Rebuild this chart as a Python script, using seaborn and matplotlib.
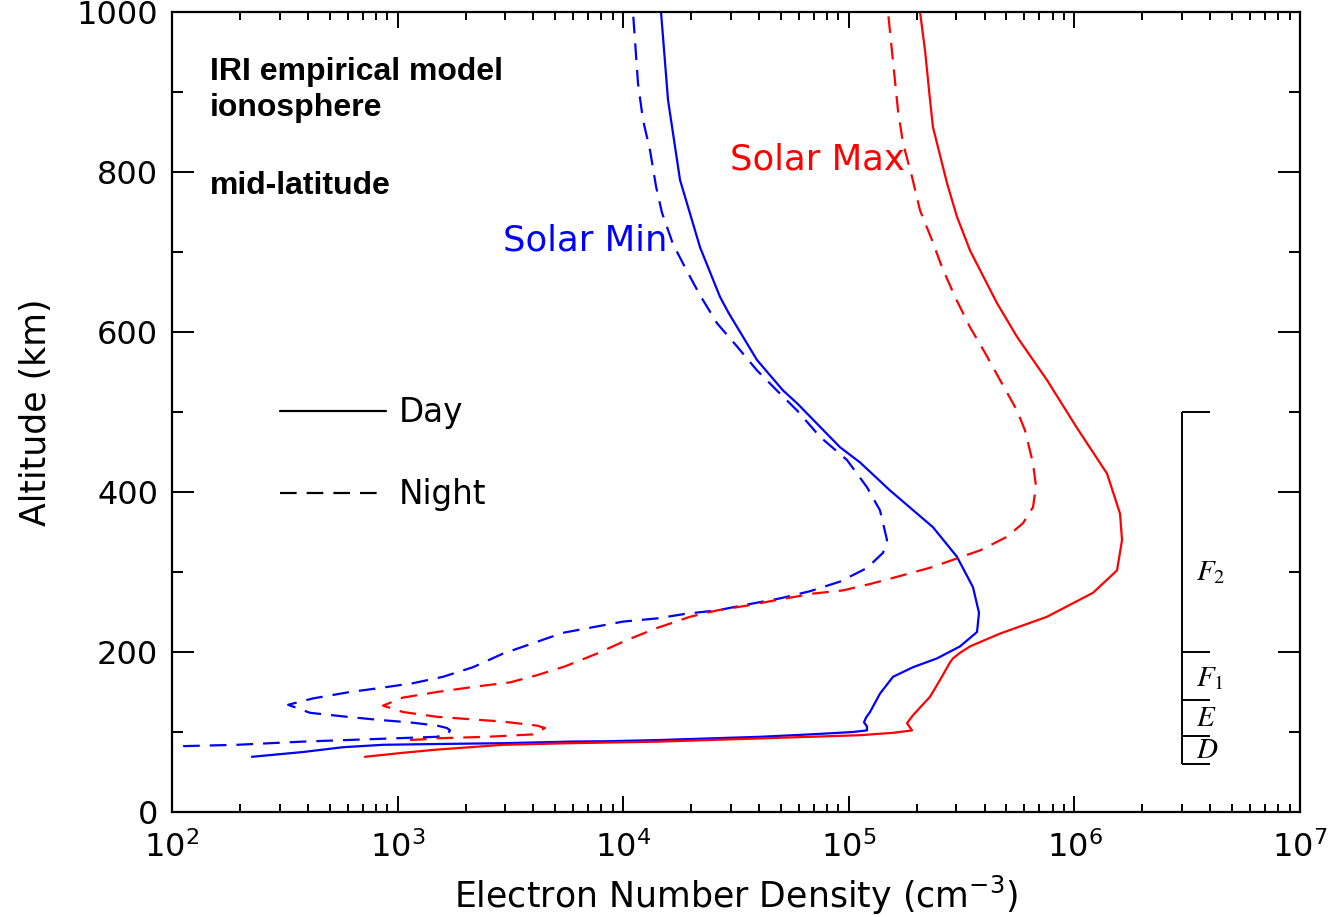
import numpy as np
import pandas as pd
import matplotlib
matplotlib.use("Agg")
import matplotlib.pyplot as plt
import seaborn as sns
from matplotlib.lines import Line2D
from matplotlib.ticker import LogLocator, MultipleLocator, NullFormatter, FixedLocator

# ---------------- data (altitude km, electron density cm^-3) ----------------
min_day_alt = [69, 75, 81, 84, 85, 86, 88, 88.5, 90, 92, 94, 97, 100, 102, 107, 112, 118, 125,
               148, 169, 181, 192, 207, 225, 249, 281, 319, 356, 402, 437, 456, 511, 527, 565,
               624, 644, 706, 765, 790, 890, 1000]
min_day_ne = [226, 381, 573, 862, 1495, 2933, 5810, 8740, 14560, 24260, 40410, 67300, 104400,
              120400, 120400, 116800, 119200, 124200, 137500, 157000, 192600, 246000, 311200,
              370100, 377700, 355200, 301700, 236100, 152200, 112100, 91400, 58940, 51080, 39180,
              29300, 26850, 21900, 18980, 17860, 15800, 14710]

min_night_alt = [81, 82, 84, 88, 91, 94, 98, 102, 105, 108, 112, 115, 119, 124, 134, 142, 150,
                 155, 161, 169, 181, 198, 211, 224, 231, 238, 242, 248, 252, 260, 267, 276, 288,
                 305, 324, 340, 377, 406, 440, 469, 502, 523, 552, 582, 611, 646, 676, 710, 749,
                 782, 827, 865, 911, 1000]
min_night_ne = [65, 100, 194, 381, 755, 1495, 1673, 1708, 1656, 1495, 1135, 836, 597, 409, 327,
                422, 615, 836, 1170, 1589, 2159, 2933, 3983, 5410, 7346, 9980, 14120, 19180,
                26050, 36480, 49550, 67300, 91400, 120400, 141800, 147700, 137500, 120400, 98170,
                74530, 58940, 49550, 39180, 31940, 26050, 21900, 19180, 16620, 14860, 13980,
                13150, 12240, 11630, 11050]

max_day_alt = [69, 74, 78, 81, 84, 86, 88, 92, 96, 99, 102, 111, 121, 144, 165, 187, 192, 199,
               207, 223, 244, 274, 302, 340, 373, 423, 480, 540, 594, 636, 702, 744, 786, 856,
               890, 952, 1000]
max_day_ne = [717, 1056, 1495, 2094, 2933, 5810, 14560, 40410, 112100, 157000, 190600, 181100,
              192600, 229100, 253700, 280900, 289600, 311200, 344500, 468000, 755600, 1209000,
              1545000, 1626000, 1593000, 1395000, 1027000, 755600, 556700, 453900, 344500,
              301700, 272500, 236100, 229100, 217700, 206900]

max_night_alt = [90, 91, 92, 94, 97, 105, 108, 113, 116, 119, 125, 133, 143, 150, 157, 162, 171,
                 182, 198, 215, 230, 244, 252, 258, 265, 273, 277, 285, 295, 306, 317, 327, 344,
                 361, 381, 407, 436, 477, 502, 540, 574, 606, 644, 681, 715, 752, 794, 836, 877,
                 1000]
max_night_ne = [1135, 1323, 1435, 2490, 3983, 4502, 4148, 2933, 2094, 1495, 1056, 862, 1056, 1495,
                2249, 3150, 4148, 5521, 7654, 10390, 14120, 19780, 26050, 35380, 48060, 69380,
                94250, 124200, 168700, 233700, 301700, 381600, 502500, 591800, 655400, 675800,
                655400, 603900, 556700, 468000, 401600, 344500, 295600, 258900, 233700, 206900,
                190600, 173900, 165200, 149200]

layer_bounds = [60, 95, 140, 200, 500]
layer_names = [r"$D$", r"$E$", r"$F_{\mathit{1}}$", r"$F_{\mathit{2}}$"]
layer_label_alt = [77, 117, 167, 300]

y_ticks = [0, 200, 400, 600, 800, 1000]

# ---------------- figure ----------------
sns.set_style("ticks")
plt.rcParams["font.family"] = ["DejaVu Sans"]
plt.rcParams["mathtext.fontset"] = "dejavusans"
for k in ["text.color", "axes.labelcolor", "xtick.color", "ytick.color", "axes.edgecolor"]:
    plt.rcParams[k] = "black"

W, H = 1331, 917
fig = plt.figure(figsize=(W / 100, H / 100), dpi=100)
ax = fig.add_axes([172 / W, 105 / H, 1128 / W, 800 / H])

frames = []
for cyc, tod, alt, ne in [("Solar Min", "Day", min_day_alt, min_day_ne),
                          ("Solar Min", "Night", min_night_alt, min_night_ne),
                          ("Solar Max", "Day", max_day_alt, max_day_ne),
                          ("Solar Max", "Night", max_night_alt, max_night_ne)]:
    frames.append(pd.DataFrame({"alt": alt, "ne": ne, "cycle": cyc, "time": tod}))
df = pd.concat(frames, ignore_index=True)

ax.set_xscale("log")
sns.lineplot(data=df, x="ne", y="alt", hue="cycle", style="time",
             palette={"Solar Min": "#0000ff", "Solar Max": "#ff0000"},
             dashes={"Day": "", "Night": (7.5, 4.5)},
             sort=False, estimator=None, lw=1.6, legend=False, ax=ax)

ax.set_xlim(1e2, 1e7)
ax.set_ylim(0, 1000)

# ticks
ax.xaxis.set_major_locator(LogLocator(base=10, numticks=10))
ax.xaxis.set_minor_locator(LogLocator(base=10, subs=np.arange(2, 10), numticks=100))
ax.xaxis.set_minor_formatter(NullFormatter())
ax.yaxis.set_major_locator(FixedLocator(y_ticks))
ax.yaxis.set_minor_locator(MultipleLocator(100))

ax.tick_params(which="both", direction="in", top=True, right=True, width=1.4, color="black",
               labelcolor="black")
ax.tick_params(axis="x", which="major", length=11.5, pad=14, labelsize=23)
ax.tick_params(axis="x", which="minor", length=6)
ax.tick_params(axis="y", which="major", length=16, pad=10, labelsize=23)
ax.tick_params(axis="y", which="minor", length=8)
for s in ax.spines.values():
    s.set_linewidth(1.6)
    s.set_color("black")

ax.set_xlabel(r"Electron Number Density (cm$^{-3}$)", fontsize=25, labelpad=7)
ax.set_ylabel("Altitude (km)", fontsize=25, labelpad=17)

# annotations
ax.text(0.0337, 0.9435, "IRI empirical model\nionosphere", transform=ax.transAxes,
        ha="left", va="top", fontsize=23, fontweight="bold", family="Liberation Sans",
        linespacing=1.25)
ax.text(0.0337, 0.782, "mid-latitude", transform=ax.transAxes, ha="left", va="center",
        fontsize=23, fontweight="bold", family="Liberation Sans")
ax.text(0.4947, 0.815, "Solar Max", transform=ax.transAxes, ha="left", va="center",
        fontsize=25.5, color="#ff0000")
ax.text(0.2934, 0.714, "Solar Min", transform=ax.transAxes, ha="left", va="center",
        fontsize=25.5, color="#0000ff")

# legend
handles = [Line2D([], [], color="black", lw=1.6, ls="-"),
           Line2D([], [], color="black", lw=1.6, ls=(0, (7.5, 4.5)))]
ax.legend(handles=handles, labels=["Day", "Night"], loc="upper left",
          bbox_to_anchor=(0.0957, 0.52), frameon=False, fontsize=23.5,
          handlelength=3.25, handletextpad=0.38, labelspacing=1.5,
          borderaxespad=0, borderpad=0)

# layer bracket
x0, x1 = 3.0e6, 4.0e6
ax.vlines(x0, layer_bounds[0], layer_bounds[-1], color="black", lw=1.4)
ax.hlines(layer_bounds, x0, x1, color="black", lw=1.4)
for name, a in zip(layer_names, layer_label_alt):
    ax.text(3.45e6, a, name, ha="left", va="center", fontsize=21, math_fontfamily="stix",
            color="black")

fig.savefig("out.png", dpi=100)
